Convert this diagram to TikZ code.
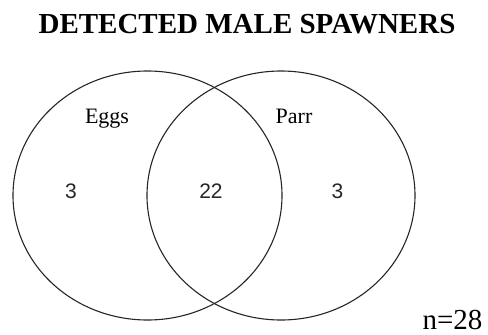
\documentclass[tikz,border=0pt]{standalone}
\usepackage{fontspec}
\setmainfont{Liberation Serif}
\newfontfamily\lsans{Liberation Sans}
\begin{document}
\begin{tikzpicture}[x=1pt,y=-1pt,
  venn/.style={draw=black!85, line width=1.1pt},
  title/.style={font=\fontsize{29}{32}\selectfont\bfseries, anchor=base},
  setlabel/.style={font=\fontsize{22}{24}\selectfont, anchor=base},
  count/.style={font=\lsans\fontsize{21}{24}\selectfont, text=black!85},
  total/.style={font=\fontsize{29}{32}\selectfont, anchor=base}]
\useasboundingbox (0,0) rectangle (488,335);
\node[title] (t) at (247,33) {DETECTED MALE SPAWNERS};
\draw[venn] (147.5,195.5) ellipse [x radius=134.5, y radius=124.5];
\draw[venn] (281,195.5) ellipse [x radius=134, y radius=124.5];
\node[setlabel] (eggs) at (107,123) {Eggs};
\node[setlabel] (parr) at (294,123) {Parr};
\node[count] (a) at (71,191) {3};
\node[count] (b) at (211,191) {22};
\node[count] (c) at (337.5,191) {3};
\node[total] (n) at (452.5,329) {n=28};
\end{tikzpicture}
\end{document}
